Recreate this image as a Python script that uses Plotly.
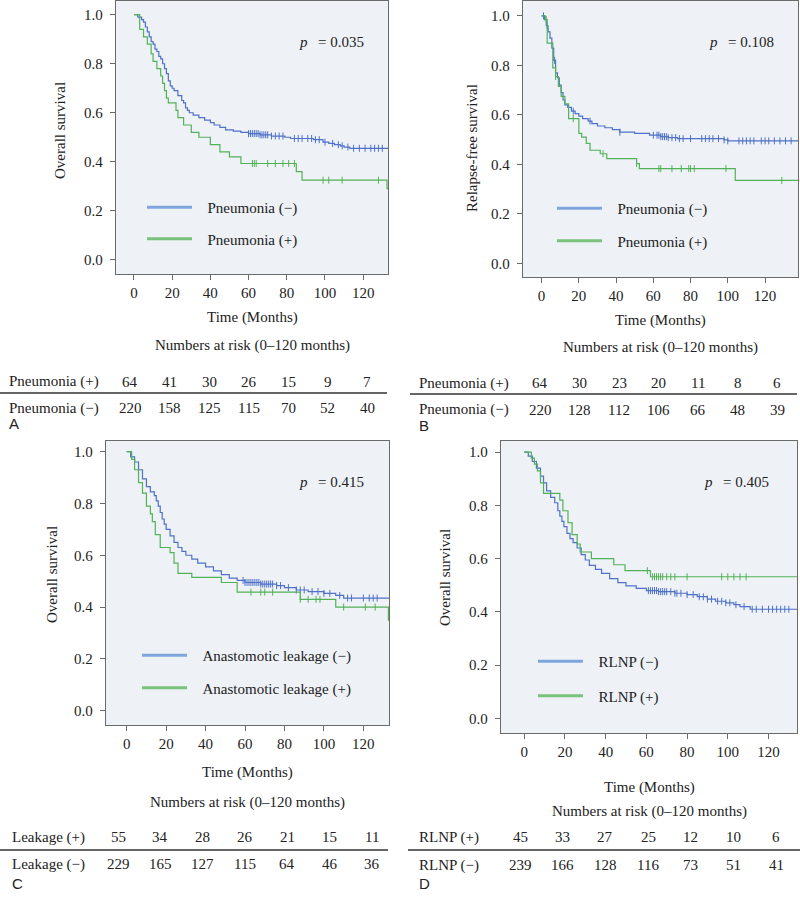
import numpy as np
import plotly.graph_objects as go

W, H = 800, 900
SERIF = "Liberation Serif, Times New Roman, serif"
SANS = "Liberation Sans, Arial, sans-serif"
INK = "#222222"
BLUE = "#4f72c8"
GREEN = "#52b257"
BLUE_KEY = "#7fa6dc"
GREEN_KEY = "#79c27c"

# ---- Kaplan-Meier curves (step times in months, survival) ----
# A: overall survival, pneumonia
a_neg_t = [0, 2, 4, 5, 6, 7, 8, 9, 10, 11, 12, 13, 14, 15, 16, 17, 18, 19, 20, 21, 23, 25, 26, 27,
           28, 29, 31, 34, 37, 40, 42, 45, 48, 52, 56, 60, 66, 72, 79, 82, 94, 99, 102, 105, 108,
           110, 113, 140]
a_neg_s = [1.0, 0.99, 0.98, 0.97, 0.95, 0.93, 0.91, 0.89, 0.88, 0.86, 0.85, 0.83, 0.82, 0.80, 0.78,
           0.76, 0.73, 0.71, 0.70, 0.69, 0.67, 0.65, 0.64, 0.62, 0.61, 0.60, 0.59, 0.58, 0.57, 0.56,
           0.55, 0.54, 0.53, 0.525, 0.52, 0.515, 0.51, 0.505, 0.50, 0.495, 0.49, 0.48, 0.475, 0.47,
           0.465, 0.46, 0.455, 0.455]
a_neg_cens = [60, 61, 62, 63, 64, 65, 66, 67, 68, 69, 70, 72, 74, 76, 78, 84, 86, 88, 91, 93, 95,
              97, 100, 104, 107, 109, 112, 115, 118, 121, 124, 126, 128, 130]
a_pos_t = [0, 3, 5, 7, 9, 10, 12, 14, 15, 16, 17, 18, 22, 23, 26, 30, 34, 40, 45, 50, 56, 85, 88,
           132.5, 140]
a_pos_s = [1.0, 0.94, 0.91, 0.88, 0.84, 0.81, 0.78, 0.75, 0.72, 0.69, 0.66, 0.64, 0.61, 0.58, 0.55,
           0.52, 0.50, 0.47, 0.44, 0.42, 0.393, 0.36, 0.325, 0.29, 0.29]
a_pos_cens = [62, 63, 64, 70, 74, 78, 81, 84, 99, 102, 109, 128]

# B: relapse-free survival, pneumonia
b_neg_t = [0, 1.5, 2.5, 3.5, 4.5, 5.5, 6.5, 7.5, 8.5, 9.5, 10.5, 11.5, 12.5, 14, 16, 18, 20, 22,
           25, 27, 30, 34, 38, 42, 50, 58, 64, 68, 73, 98, 100, 140]
b_neg_s = [1.0, 0.985, 0.96, 0.935, 0.91, 0.87, 0.82, 0.77, 0.75, 0.72, 0.69, 0.66, 0.64, 0.63,
           0.615, 0.605, 0.595, 0.585, 0.575, 0.565, 0.555, 0.548, 0.54, 0.53, 0.525, 0.518, 0.512,
           0.508, 0.504, 0.499, 0.495, 0.495]
b_neg_cens = [1, 3, 7, 17, 26, 42, 60, 62, 63, 64, 65, 66, 67, 68, 70, 72, 74, 76, 80, 86, 88, 90,
              92, 95, 98, 100, 106, 108, 110, 112, 114, 118, 120, 122, 125, 128, 131, 134]
b_pos_t = [0, 2, 3, 6, 7.5, 9, 10.5, 12.5, 14.5, 20, 21.5, 24, 26, 31.5, 35, 51, 52.5, 104, 140]
b_pos_s = [1.0, 0.985, 0.89, 0.79, 0.755, 0.715, 0.675, 0.645, 0.585, 0.525, 0.51, 0.485, 0.457,
           0.443, 0.423, 0.403, 0.383, 0.335, 0.335]
b_pos_cens = [2.5, 7.5, 17, 33, 51, 63, 64, 70, 75, 79, 80, 82, 99, 129]

# C: overall survival, anastomotic leakage
c_neg_t = [0, 2, 4, 6, 8, 10, 12, 14, 15, 16, 17, 18, 19, 20, 22, 24, 26, 28, 30, 33, 36, 40, 44,
           48, 52, 56, 60, 68, 76, 80, 86, 92, 100, 106, 110, 140]
c_neg_s = [1.0, 0.98, 0.96, 0.93, 0.895, 0.865, 0.845, 0.83, 0.81, 0.79, 0.765, 0.74, 0.72, 0.70,
           0.675, 0.65, 0.63, 0.615, 0.60, 0.585, 0.57, 0.555, 0.54, 0.525, 0.512, 0.503, 0.495,
           0.489, 0.483, 0.475, 0.466, 0.46, 0.453, 0.445, 0.435, 0.435]
c_neg_cens = [59, 60, 61, 62, 63, 64, 65, 66, 67, 68, 69, 70, 71, 72, 73, 74, 76, 78, 82, 86, 88,
              90, 94, 97, 100, 103, 108, 112, 114, 120, 123, 125, 127]
c_pos_t = [0, 2.5, 4, 6, 8, 10, 12, 13, 14.5, 17, 22, 24, 26, 33, 48, 56, 88, 106, 132.7, 140]
c_pos_s = [1.0, 0.97, 0.93, 0.88, 0.84, 0.79, 0.76, 0.73, 0.68, 0.63, 0.61, 0.57, 0.53, 0.515,
           0.495, 0.458, 0.43, 0.40, 0.35, 0.35]
c_pos_cens = [63, 68, 70, 74, 88, 92, 96, 98, 110, 121, 126]

# D: overall survival, recurrent laryngeal nerve palsy
d_neg_t = [0, 2, 4, 6, 8, 9.5, 11, 13, 15, 16.5, 17.5, 18.5, 19.5, 21, 22.5, 24, 26, 28, 30, 32,
           35, 38, 42, 46, 50, 55, 60, 66, 74, 80, 85, 90, 94, 99, 103, 106, 111, 140]
d_neg_s = [1.0, 0.985, 0.965, 0.94, 0.91, 0.885, 0.855, 0.83, 0.81, 0.78, 0.76, 0.74, 0.72, 0.695,
           0.675, 0.66, 0.64, 0.615, 0.595, 0.575, 0.56, 0.545, 0.525, 0.51, 0.498, 0.488, 0.48,
           0.476, 0.47, 0.465, 0.457, 0.448, 0.44, 0.434, 0.427, 0.42, 0.41, 0.41]
d_neg_cens = [61, 62, 63, 64, 65, 66, 67, 68, 69, 70, 72, 74, 75, 77, 80, 83, 86, 88, 90, 92, 95,
              97, 99, 101, 104, 108, 112, 114, 117, 120, 122, 124, 126, 128, 130]
d_pos_t = [0, 3.5, 5, 6.5, 8, 9.5, 17.5, 19, 21.5, 23.5, 26, 27.5, 33, 44, 49.5, 62, 140]
d_pos_s = [1.0, 0.978, 0.955, 0.93, 0.885, 0.845, 0.82, 0.78, 0.735, 0.69, 0.655, 0.625, 0.60,
           0.577, 0.555, 0.532, 0.532]
d_pos_cens = [60.5, 63, 64, 65, 66, 67, 68, 70, 72, 74, 80, 97, 100, 103, 106, 109]

# ---- numbers at risk at 0, 20, ... 120 months ----
risk_months = [0, 20, 40, 60, 80, 100, 120]
a_risk_pos = [64, 41, 30, 26, 15, 9, 7]
a_risk_neg = [220, 158, 125, 115, 70, 52, 40]
b_risk_pos = [64, 30, 23, 20, 11, 8, 6]
b_risk_neg = [220, 128, 112, 106, 66, 48, 39]
c_risk_pos = [55, 34, 28, 26, 21, 15, 11]
c_risk_neg = [229, 165, 127, 115, 64, 46, 36]
d_risk_pos = [45, 33, 27, 25, 12, 10, 6]
d_risk_neg = [239, 166, 128, 116, 73, 51, 41]

p_values = ["0.035", "0.108", "0.415", "0.405"]
y_titles = ["Overall survival", "Relapse-free survival", "Overall survival", "Overall survival"]
groups = ["Pneumonia", "Pneumonia", "Anastomotic leakage", "RLNP"]
row_names = ["Pneumonia", "Pneumonia", "Leakage", "RLNP"]
letters = ["A", "B", "C", "D"]

curves = [
    ((a_neg_t, a_neg_s, a_neg_cens), (a_pos_t, a_pos_s, a_pos_cens)),
    ((b_neg_t, b_neg_s, b_neg_cens), (b_pos_t, b_pos_s, b_pos_cens)),
    ((c_neg_t, c_neg_s, c_neg_cens), (c_pos_t, c_pos_s, c_pos_cens)),
    ((d_neg_t, d_neg_s, d_neg_cens), (d_pos_t, d_pos_s, d_pos_cens)),
]
risks = [(a_risk_pos, a_risk_neg), (b_risk_pos, b_risk_neg),
         (c_risk_pos, c_risk_neg), (d_risk_pos, d_risk_neg)]

# ---- layout of each panel, in page pixels ----
frames = [
    dict(box=(116, 1, 388, 274), xr=(-9.4, 133), yr=(-0.058, 1.056), ytitle=(60, 131),
         ptext=(297, 42), key=(142, 191), gap=9, xtitle_y=318, risk_title_y=345,
         row_y=(382, 408), rule=(0, 387, 393), label_x=7, num=(130, 39.5), letter_y=424),
    dict(box=(523, 1, 798, 277), xr=(-10, 137.7), yr=(-0.055, 1.06), ytitle=(472, 148),
         ptext=(707, 42), key=(552, 192), gap=10, xtitle_y=320, risk_title_y=347,
         row_y=(383, 410), rule=(410, 797, 394), label_x=417, num=(540, 39.5), letter_y=425),
    dict(box=(106, 441, 389, 725), xr=(-10.5, 133), yr=(-0.055, 1.041), ytitle=(52, 575),
         ptext=(297, 482), key=(137, 639), gap=10, xtitle_y=772, risk_title_y=802,
         row_y=(837, 864), rule=(0, 388, 850), label_x=10, num=(118, 42.3), letter_y=883),
    dict(box=(501, 441, 797, 733), xr=(-11.4, 134), yr=(-0.055, 1.042), ytitle=(445, 578),
         ptext=(702, 482), key=(533, 645), gap=12, xtitle_y=787, risk_title_y=811,
         row_y=(837, 865), rule=(408, 800, 850), label_x=417, num=(520, 42.7), letter_y=883),
]


def surv_at(t, s, when):
    idx = np.searchsorted(np.asarray(t), np.asarray(when), side="right") - 1
    return np.asarray(s)[idx]


fig = go.Figure()
annotations = []
shapes = []


def note(text, x, y, size=15, family=SERIF, xanchor="center", angle=0):
    annotations.append(dict(text=text, x=x / W, y=1 - y / H, xref="paper", yref="paper",
                            showarrow=False, xanchor=xanchor, yanchor="middle",
                            textangle=angle, font=dict(family=family, size=size, color=INK)))


for i, fr in enumerate(frames):
    n = i + 1
    xa, ya = ("x" if n == 1 else f"x{n}"), ("y" if n == 1 else f"y{n}")
    leg = "legend" if n == 1 else f"legend{n}"
    (neg, pos) = curves[i]
    for (t, s, cens), color, key_color, sign in ((neg, BLUE, BLUE_KEY, "−"),
                                                 (pos, GREEN, GREEN_KEY, "+")):
        fig.add_trace(go.Scatter(x=t, y=s, mode="lines", line_shape="hv",
                                 line=dict(color=color, width=1.2), xaxis=xa, yaxis=ya,
                                 showlegend=False, hoverinfo="skip"))
        fig.add_trace(go.Scatter(x=cens, y=surv_at(t, s, cens), mode="markers",
                                 marker=dict(symbol="line-ns-open", size=5, color=color,
                                             line=dict(color=color, width=1)),
                                 xaxis=xa, yaxis=ya, showlegend=False, hoverinfo="skip"))
        fig.add_trace(go.Scatter(x=[None], y=[None], mode="lines",
                                 line=dict(color=key_color, width=3),
                                 name=f"\u2002\u2009{groups[i]} ({sign})", legend=leg,
                                 legendgroup=f"{leg}{sign}", xaxis=xa, yaxis=ya))

    l, t, r, b = fr["box"]
    axis_common = dict(showline=True, mirror=True, linecolor="#6a6a6a", linewidth=1.3,
                       showgrid=False, zeroline=False, ticks="outside", ticklen=5,
                       tickcolor="#6a6a6a", tickfont=dict(family=SERIF, size=15, color=INK))
    fig.update_layout({
        f"xaxis{'' if n == 1 else n}": dict(domain=[l / W, r / W], range=list(fr["xr"]),
                                             anchor=ya, tickvals=risk_months, **axis_common),
        f"yaxis{'' if n == 1 else n}": dict(domain=[1 - b / H, 1 - t / H], range=list(fr["yr"]),
                                             anchor=xa, tickvals=[0, 0.2, 0.4, 0.6, 0.8, 1.0],
                                             tickformat=".1f", ticklabelstandoff=4,
                                             **axis_common),
        leg: dict(x=fr["key"][0] / W, y=1 - fr["key"][1] / H, xanchor="left", yanchor="top",
                  bgcolor="rgba(0,0,0,0)", traceorder="grouped", tracegroupgap=fr["gap"],
                  itemwidth=45, font=dict(family=SERIF, size=15, color=INK)),
    })

    # titles and p value
    note(y_titles[i], fr["ytitle"][0], fr["ytitle"][1], angle=-90)
    note("Time (Months)", (l + r) / 2, fr["xtitle_y"])
    note(f"<i>p</i>\u2002\u2009= {p_values[i]}", fr["ptext"][0], fr["ptext"][1], xanchor="left")

    # numbers-at-risk table
    note("Numbers at risk (0\u2013120 months)", (l + r) / 2, fr["risk_title_y"])
    pos_row, neg_row = risks[i]
    note(f"{row_names[i]} (+)", fr["label_x"], fr["row_y"][0], xanchor="left")
    note(f"{row_names[i]} (−)", fr["label_x"], fr["row_y"][1], xanchor="left")
    x0, step = fr["num"]
    for k in range(len(risk_months)):
        note(str(pos_row[k]), x0 + k * step, fr["row_y"][0])
        note(str(neg_row[k]), x0 + k * step, fr["row_y"][1])
    rx0, rx1, ry = fr["rule"]
    shapes.append(dict(type="line", xref="paper", yref="paper", x0=rx0 / W, x1=rx1 / W,
                       y0=1 - ry / H, y1=1 - ry / H, line=dict(color="#333333", width=1.3)))
    note(letters[i], fr["label_x"], fr["letter_y"], size=15, family=SANS, xanchor="left")

fig.update_layout(width=W, height=H, margin=dict(l=0, r=0, t=0, b=0),
                  paper_bgcolor="white", plot_bgcolor="#eef1f6", showlegend=True,
                  annotations=annotations, shapes=shapes)

# the page's default 8px body margin would push the figure off the 800x900 window
fig.write_html("out.html", config={"displayModeBar": False},
               post_script="document.body.style.margin = '0';")
